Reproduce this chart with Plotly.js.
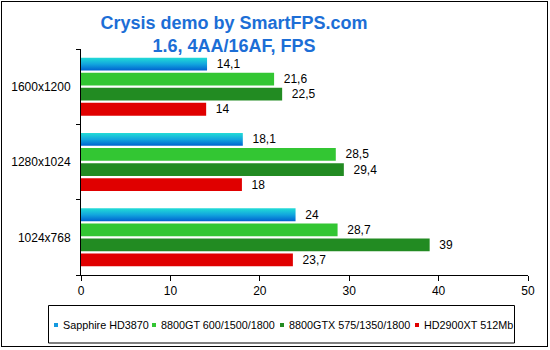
<!DOCTYPE html>
<html>
<head>
<meta charset="utf-8">
<script src="https://cdn.plot.ly/plotly-3.0.1.min.js"></script>
<style>
  html, body { margin: 0; padding: 0; background: #fff; }
  #wrap { position: relative; width: 550px; height: 350px; }
  #chart { width: 550px; height: 350px; }
  #frame { position: absolute; left: 1px; top: 1px; width: 547px; height: 346px;
           box-sizing: border-box; border: 1px solid #000; pointer-events: none; }
</style>
</head>
<body>
<div id="wrap"><div id="chart"></div><div id="frame"></div></div>
<script>
// ---- data ----
const resolutions = ["1024x768", "1280x1024", "1600x1200"];
const seriesNames = ["Sapphire HD3870", "8800GT 600/1500/1800", "8800GTX 575/1350/1800", "HD2900XT 512Mb"];
const sapphireHD3870 = [24, 18.1, 14.1];
const gt8800 = [28.7, 28.5, 21.6];
const gtx8800 = [39, 29.4, 22.5];
const hd2900xt = [23.7, 18, 14];
const xTicks = [0, 10, 20, 30, 40, 50];

// ---- styling ----
const colors = ["#1499DF", "#33C633", "#228B22", "#E00000"];
const seriesValues = [sapphireHD3870, gt8800, gtx8800, hd2900xt];

const L = 81, R = 22, T = 49, B = 75, W = 550, H = 350;
const pw = W - L - R, ph = H - T - B;
const px = x => (x - L) / pw;
const py = y => (H - B - y) / ph;

// Plotly stacks grouped horizontal bars bottom-up, so add traces in reverse
const traces = [];
for (let i = seriesValues.length - 1; i >= 0; i--) {
  traces.push({
    type: "bar",
    orientation: "h",
    name: seriesNames[i],
    y: resolutions,
    x: seriesValues[i],
    marker: { color: colors[i] },
    text: seriesValues[i],
    texttemplate: "\u00a0\u00a0%{x}",
    textposition: "outside",
    constraintext: "none",
    cliponaxis: false,
    textfont: { family: "Arial, Liberation Sans", size: 12, color: "#000" },
    hoverinfo: "none"
  });
}

// custom legend (small squares + text, in a framed box)
const legendTextX = [62, 160, 288, 423];
const legendY = 325;
const shapes = [{
  type: "rect", xref: "paper", yref: "paper",
  x0: px(48.5), x1: px(514.5), y0: py(343), y1: py(305.5),
  line: { color: "#000", width: 1 }, fillcolor: "rgba(0,0,0,0)"
}];
const annotations = [];
seriesNames.forEach((n, i) => {
  shapes.push({
    type: "rect", xref: "paper", yref: "paper",
    x0: px(legendTextX[i] - 8), x1: px(legendTextX[i] - 4),
    y0: py(legendY + 2), y1: py(legendY - 2),
    line: { width: 0 }, fillcolor: colors[i]
  });
  annotations.push({
    xref: "paper", yref: "paper", x: px(legendTextX[i] - 1.5), y: py(legendY),
    xanchor: "left", yanchor: "middle", showarrow: false, text: n,
    font: { family: "Arial, Liberation Sans", size: 10.8, color: "#000" }
  });
});

const layout = {
  width: W, height: H,
  margin: { l: L, r: R, t: T, b: B, pad: 0 },
  paper_bgcolor: "#fff", plot_bgcolor: "#fff",
  separators: ", ",
  barmode: "group",
  bargap: 0.2,
  bargroupgap: 0.15,
  showlegend: false,
  title: {
    text: "Crysis demo by SmartFPS.com<br>1.6, 4AA/16AF, FPS",
    font: { family: "Arial, Liberation Sans", size: 18, color: "#1C6ED6", weight: "bold" },
    xref: "container", yref: "container",
    x: 234 / W, xanchor: "center",
    y: 1 - 29 / H, yanchor: "top"
  },
  xaxis: {
    range: [0, 50],
    tickvals: xTicks,
    ticks: "outside", ticklen: 5, tickcolor: "#000", tickwidth: 1,
    showline: true, linecolor: "#000", linewidth: 1,
    showgrid: false, zeroline: false,
    tickfont: { family: "Arial, Liberation Sans", size: 12, color: "#000" },
    fixedrange: true
  },
  yaxis: {
    type: "category",
    categoryorder: "array", categoryarray: resolutions,
    tickson: "boundaries",
    ticks: "outside", ticklen: 4, tickcolor: "#000", tickwidth: 1,
    ticklabelstandoff: 7,
    showline: true, linecolor: "#000", linewidth: 1,
    showgrid: false, zeroline: false,
    tickfont: { family: "Arial, Liberation Sans", size: 12, color: "#000" },
    fixedrange: true
  },
  shapes: shapes,
  annotations: annotations
};

Plotly.newPlot("chart", traces, layout, { displayModeBar: false, staticPlot: true }).then(gd => {
  // vertical gradient for the Sapphire bars (cyan -> blue)
  const svg = gd.querySelector("svg.main-svg");
  const ns = "http://www.w3.org/2000/svg";
  let defs = svg.querySelector("defs");
  if (!defs) { defs = document.createElementNS(ns, "defs"); svg.insertBefore(defs, svg.firstChild); }
  const g = document.createElementNS(ns, "linearGradient");
  g.setAttribute("id", "sapphireGrad");
  g.setAttribute("x1", "0"); g.setAttribute("y1", "0");
  g.setAttribute("x2", "0"); g.setAttribute("y2", "1");
  [["0", "#22DCD6"], ["0.5", "#12A6DE"], ["1", "#0063D0"]].forEach(([o, c]) => {
    const s = document.createElementNS(ns, "stop");
    s.setAttribute("offset", o); s.setAttribute("stop-color", c);
    g.appendChild(s);
  });
  defs.appendChild(g);
  const barTraces = gd.querySelectorAll(".barlayer .trace");
  const sapphire = barTraces[barTraces.length - 1];
  if (sapphire) sapphire.querySelectorAll(".point path").forEach(p => { p.style.fill = "url(#sapphireGrad)"; });
});
</script>
</body>
</html>
